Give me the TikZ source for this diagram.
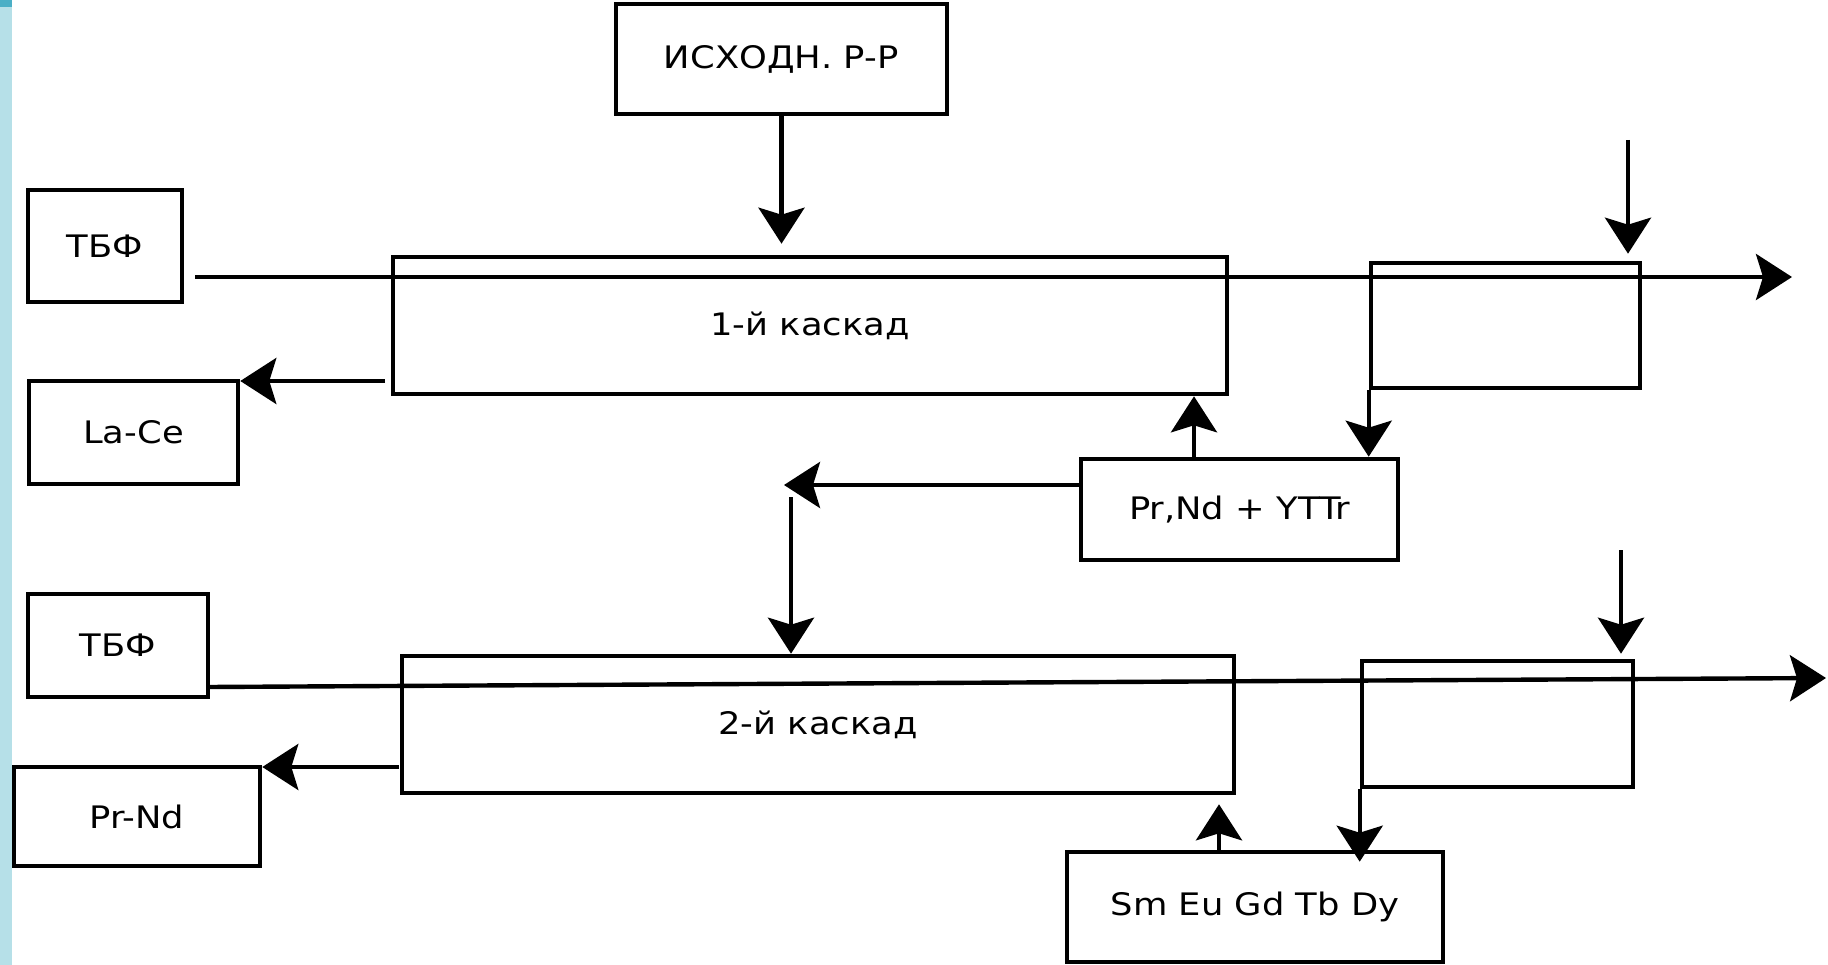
\documentclass[tikz,border=0pt]{standalone}
\usepackage{fontspec}
\setmainfont{DejaVu Sans}[FakeStretch=1.14]
\usetikzlibrary{arrows.meta,calc}
\definecolor{stripblue}{HTML}{B6E0E8}
\definecolor{stripdark}{HTML}{4AAFC6}
\tikzset{
  box/.style={draw=black, line width=4.6pt, fill=white, inner sep=0pt, font=\fontsize{31}{36}\selectfont},
  conn/.style={draw=black, line width=4.4pt},
  arr/.style={conn, -{Stealth[length=36pt, width=46pt, inset=7pt]}},
}
\begin{document}
\begin{tikzpicture}[x=1pt, y=-1pt]
\useasboundingbox (0,0) rectangle (1828,965);
\fill[white] (0,0) rectangle (1828,965);
\fill[stripblue] (0,0) rectangle (12,965);
\fill[stripdark] (0,0) rectangle (12,7);

% boxes
\node[box, minimum width=331pt, minimum height=110pt] (src) at (781.5,59) {ИСХОДН. Р-Р};
\node[box, minimum width=154pt, minimum height=112pt] (tbf1) at (105,246) {ТБФ};
\node[box, minimum width=834pt, minimum height=137pt] (c1) at (810,325.5) {1-й каскад};
\node[box, minimum width=209pt, minimum height=103pt] (lace) at (133.5,432.5) {La-Ce};
\node[box, minimum width=269pt, minimum height=125pt] (rb1) at (1505.5,325.5) {};
\node[box, minimum width=317pt, minimum height=101pt] (prnd) at (1239.5,509.5) {Pr,Nd + YTTr};
\node[box, minimum width=180pt, minimum height=103pt] (tbf2) at (118,645.5) {ТБФ};
\node[box, minimum width=832pt, minimum height=137pt] (c2) at (818,724.5) {2-й каскад};
\node[box, minimum width=246pt, minimum height=99pt] (prnd2) at (137,816.5) {Pr-Nd};
\node[box, minimum width=271pt, minimum height=126pt] (rb2) at (1497.5,724) {};
\node[box, minimum width=376pt, minimum height=110pt] (sm) at (1255,907) {Sm Eu Gd Tb Dy};

% free ends
\coordinate (t1s) at (195,277);
\coordinate (t1e) at (1792,277);
\coordinate (t2s) at (208,687);
\coordinate (t2e) at (1826,678);
\coordinate (c1w) at (385,381);
\coordinate (c2w) at (399,767);
\coordinate (f1) at (1628,140);
\coordinate (f2) at (1621,550);
\coordinate (j1) at (784,485);
\coordinate (j2) at (791,497);
\coordinate (u1) at (1194,459);
\coordinate (u2) at (1219,852);

% connectors
\draw[arr, shorten >=11pt] (src.south) -- (src.south |- c1.north);
\draw[arr] (t1s) -- (t1e);
\draw[arr] (c1w) -- (c1w -| lace.east);
\draw[arr, shorten >=7pt] (f1) -- (f1 |- rb1.north);
\draw[arr] (rb1.south west) -- (rb1.south west |- prnd.north);
\draw[arr] (u1) -- (u1 |- c1.south);
\draw[arr] (prnd.west |- j1) -- (j1);
\draw[arr] (j2) -- (j2 |- c2.north);
\draw[arr] (t2s) -- (t2e);
\draw[arr] (c2w) -- (c2w -| prnd2.east);
\draw[arr, shorten >=5pt] (f2) -- (f2 |- rb2.north);
\draw[arr, shorten >=-12pt] (rb2.south west) -- (rb2.south west |- sm.north);
\draw[arr, shorten >=9pt] (u2) -- (u2 |- c2.south);
\end{tikzpicture}
\end{document}
